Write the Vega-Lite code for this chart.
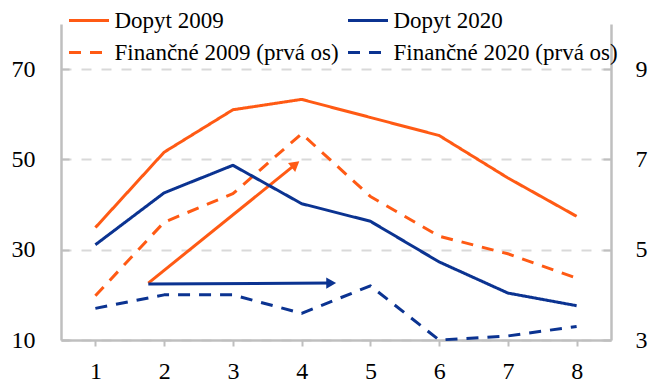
{
  "$schema": "https://vega.github.io/schema/vega-lite/v6.json",
  "width": 550,
  "height": 316,
  "autosize": {"type": "none"},
  "padding": {"left": 61, "top": 24, "right": 46, "bottom": 40},
  "background": "white",
  "config": {
    "view": {"stroke": null},
    "axis": {
      "labelFont": "Liberation Serif",
      "labelFontSize": 24,
      "labelColor": "#000000",
      "domainColor": "#BFBFBF",
      "domainWidth": 2.5,
      "tickColor": "#BFBFBF",
      "tickWidth": 2,
      "title": null
    },
    "legend": {
      "orient": "none",
      "legendX": 6.5,
      "legendY": -18,
      "columns": 2,
      "padding": 0,
      "symbolType": "stroke",
      "symbolSize": 1600,
      "symbolStrokeWidth": 3,
      "labelFont": "Liberation Serif",
      "labelFontSize": 23,
      "labelColor": "#000000",
      "labelOffset": 4,
      "labelLimit": 400,
      "columnPadding": 7,
      "rowPadding": 3,
      "clipHeight": 29
    }
  },
  "datasets": {
    "series": [
      {"x": 1, "series": "Dopyt 2009", "value": 5.49},
      {"x": 2, "series": "Dopyt 2009", "value": 7.16},
      {"x": 3, "series": "Dopyt 2009", "value": 8.10},
      {"x": 4, "series": "Dopyt 2009", "value": 8.33},
      {"x": 5, "series": "Dopyt 2009", "value": 7.93},
      {"x": 6, "series": "Dopyt 2009", "value": 7.53},
      {"x": 7, "series": "Dopyt 2009", "value": 6.59},
      {"x": 8, "series": "Dopyt 2009", "value": 5.74},
      {"x": 1, "series": "Dopyt 2020", "value": 5.11},
      {"x": 2, "series": "Dopyt 2020", "value": 6.26},
      {"x": 3, "series": "Dopyt 2020", "value": 6.87},
      {"x": 4, "series": "Dopyt 2020", "value": 6.02},
      {"x": 5, "series": "Dopyt 2020", "value": 5.63},
      {"x": 6, "series": "Dopyt 2020", "value": 4.73},
      {"x": 7, "series": "Dopyt 2020", "value": 4.04},
      {"x": 8, "series": "Dopyt 2020", "value": 3.76},
      {"x": 1, "series": "Finančné 2009 (prvá os)", "value": 19.8},
      {"x": 2, "series": "Finančné 2009 (prvá os)", "value": 36.1},
      {"x": 3, "series": "Finančné 2009 (prvá os)", "value": 42.4},
      {"x": 4, "series": "Finančné 2009 (prvá os)", "value": 55.7},
      {"x": 5, "series": "Finančné 2009 (prvá os)", "value": 41.8},
      {"x": 6, "series": "Finančné 2009 (prvá os)", "value": 33.0},
      {"x": 7, "series": "Finančné 2009 (prvá os)", "value": 29.1},
      {"x": 8, "series": "Finančné 2009 (prvá os)", "value": 23.7},
      {"x": 1, "series": "Finančné 2020 (prvá os)", "value": 17.0},
      {"x": 2, "series": "Finančné 2020 (prvá os)", "value": 20.0},
      {"x": 3, "series": "Finančné 2020 (prvá os)", "value": 20.0},
      {"x": 4, "series": "Finančné 2020 (prvá os)", "value": 15.9},
      {"x": 5, "series": "Finančné 2020 (prvá os)", "value": 22.0},
      {"x": 6, "series": "Finančné 2020 (prvá os)", "value": 10.0},
      {"x": 7, "series": "Finančné 2020 (prvá os)", "value": 10.9},
      {"x": 8, "series": "Finančné 2020 (prvá os)", "value": 13.0}
    ],
    "arrows": [
      {"arrow": "a", "x": 1.77, "value": 22.6},
      {"arrow": "a", "x": 3.91, "value": 48.9},
      {"arrow": "b", "x": 1.77, "value": 22.4},
      {"arrow": "b", "x": 4.43, "value": 22.6}
    ],
    "heads": [
      {"arrow": "a", "x": 3.91, "value": 48.9},
      {"arrow": "b", "x": 4.43, "value": 22.6}
    ]
  },
  "layer": [
    {
      "encoding": {
        "x": {
          "field": "x",
          "type": "quantitative",
          "scale": {"domain": [0.5, 8.5], "nice": false, "zero": false},
          "axis": {
            "values": [1, 2, 3, 4, 5, 6, 7, 8],
            "format": "d",
            "grid": false,
            "tickSize": 6,
            "labelPadding": 13,
            "labelAngle": 0
          }
        },
        "y": {
          "field": "value",
          "type": "quantitative",
          "scale": {"domain": [10, 80], "nice": false, "zero": false},
          "axis": {
            "orient": "left",
            "values": [10, 30, 50, 70],
            "format": "d",
            "grid": true,
            "gridColor": "#D9D9D9",
            "gridDash": [10, 10],
            "gridWidth": 2,
            "tickSize": -8,
            "labelPadding": 34
          }
        }
      },
      "layer": [
        {
          "data": {"name": "series"},
          "transform": [{"filter": "indexof(datum.series, 'Finančné') === 0"}],
          "mark": {"type": "line", "strokeWidth": 3, "strokeJoin": "round"},
          "encoding": {
            "color": {
              "field": "series",
              "type": "nominal",
              "scale": {
                "domain": ["Dopyt 2009", "Finančné 2009 (prvá os)", "Dopyt 2020", "Finančné 2020 (prvá os)"],
                "range": ["#FF5A14", "#FF5A14", "#0B3391", "#0B3391"]
              },
              "legend": {"title": null}
            },
            "strokeDash": {
              "field": "series",
              "type": "nominal",
              "scale": {
                "domain": ["Dopyt 2009", "Finančné 2009 (prvá os)", "Dopyt 2020", "Finančné 2020 (prvá os)"],
                "range": [[1, 0], [12, 9], [1, 0], [12, 9]]
              },
              "legend": {"title": null}
            }
          }
        },
        {
          "data": {"name": "arrows"},
          "transform": [{"filter": "datum.arrow === 'a'"}],
          "mark": {"type": "line", "strokeWidth": 3, "color": "#FF5A14"},
          "encoding": {}
        },
        {
          "data": {"name": "arrows"},
          "transform": [{"filter": "datum.arrow === 'b'"}],
          "mark": {"type": "line", "strokeWidth": 3, "color": "#0B3391"},
          "encoding": {}
        },
        {
          "data": {"name": "heads"},
          "transform": [{"filter": "datum.arrow === 'a'"}],
          "mark": {"type": "point", "shape": "triangle-up", "angle": 51, "filled": true, "size": 130, "opacity": 1, "color": "#FF5A14"},
          "encoding": {}
        },
        {
          "data": {"name": "heads"},
          "transform": [{"filter": "datum.arrow === 'b'"}],
          "mark": {"type": "point", "shape": "triangle-right", "filled": true, "size": 130, "opacity": 1, "color": "#0B3391"},
          "encoding": {}
        }
      ]
    },
    {
      "data": {"name": "series"},
      "transform": [{"filter": "indexof(datum.series, 'Dopyt') === 0"}],
      "mark": {"type": "line", "strokeWidth": 3, "strokeJoin": "round"},
      "encoding": {
        "x": {"field": "x", "type": "quantitative"},
        "y": {
          "field": "value",
          "type": "quantitative",
          "scale": {"domain": [3, 10], "nice": false, "zero": false},
          "axis": {
            "orient": "right",
            "values": [3, 5, 7, 9],
            "format": "d",
            "grid": false,
            "tickSize": -8,
            "labelPadding": 32
          }
        },
        "color": {"field": "series", "type": "nominal", "legend": {"title": null}},
        "strokeDash": {"field": "series", "type": "nominal", "legend": {"title": null}}
      }
    }
  ],
  "resolve": {"scale": {"y": "independent"}, "axis": {"y": "independent"}}
}
